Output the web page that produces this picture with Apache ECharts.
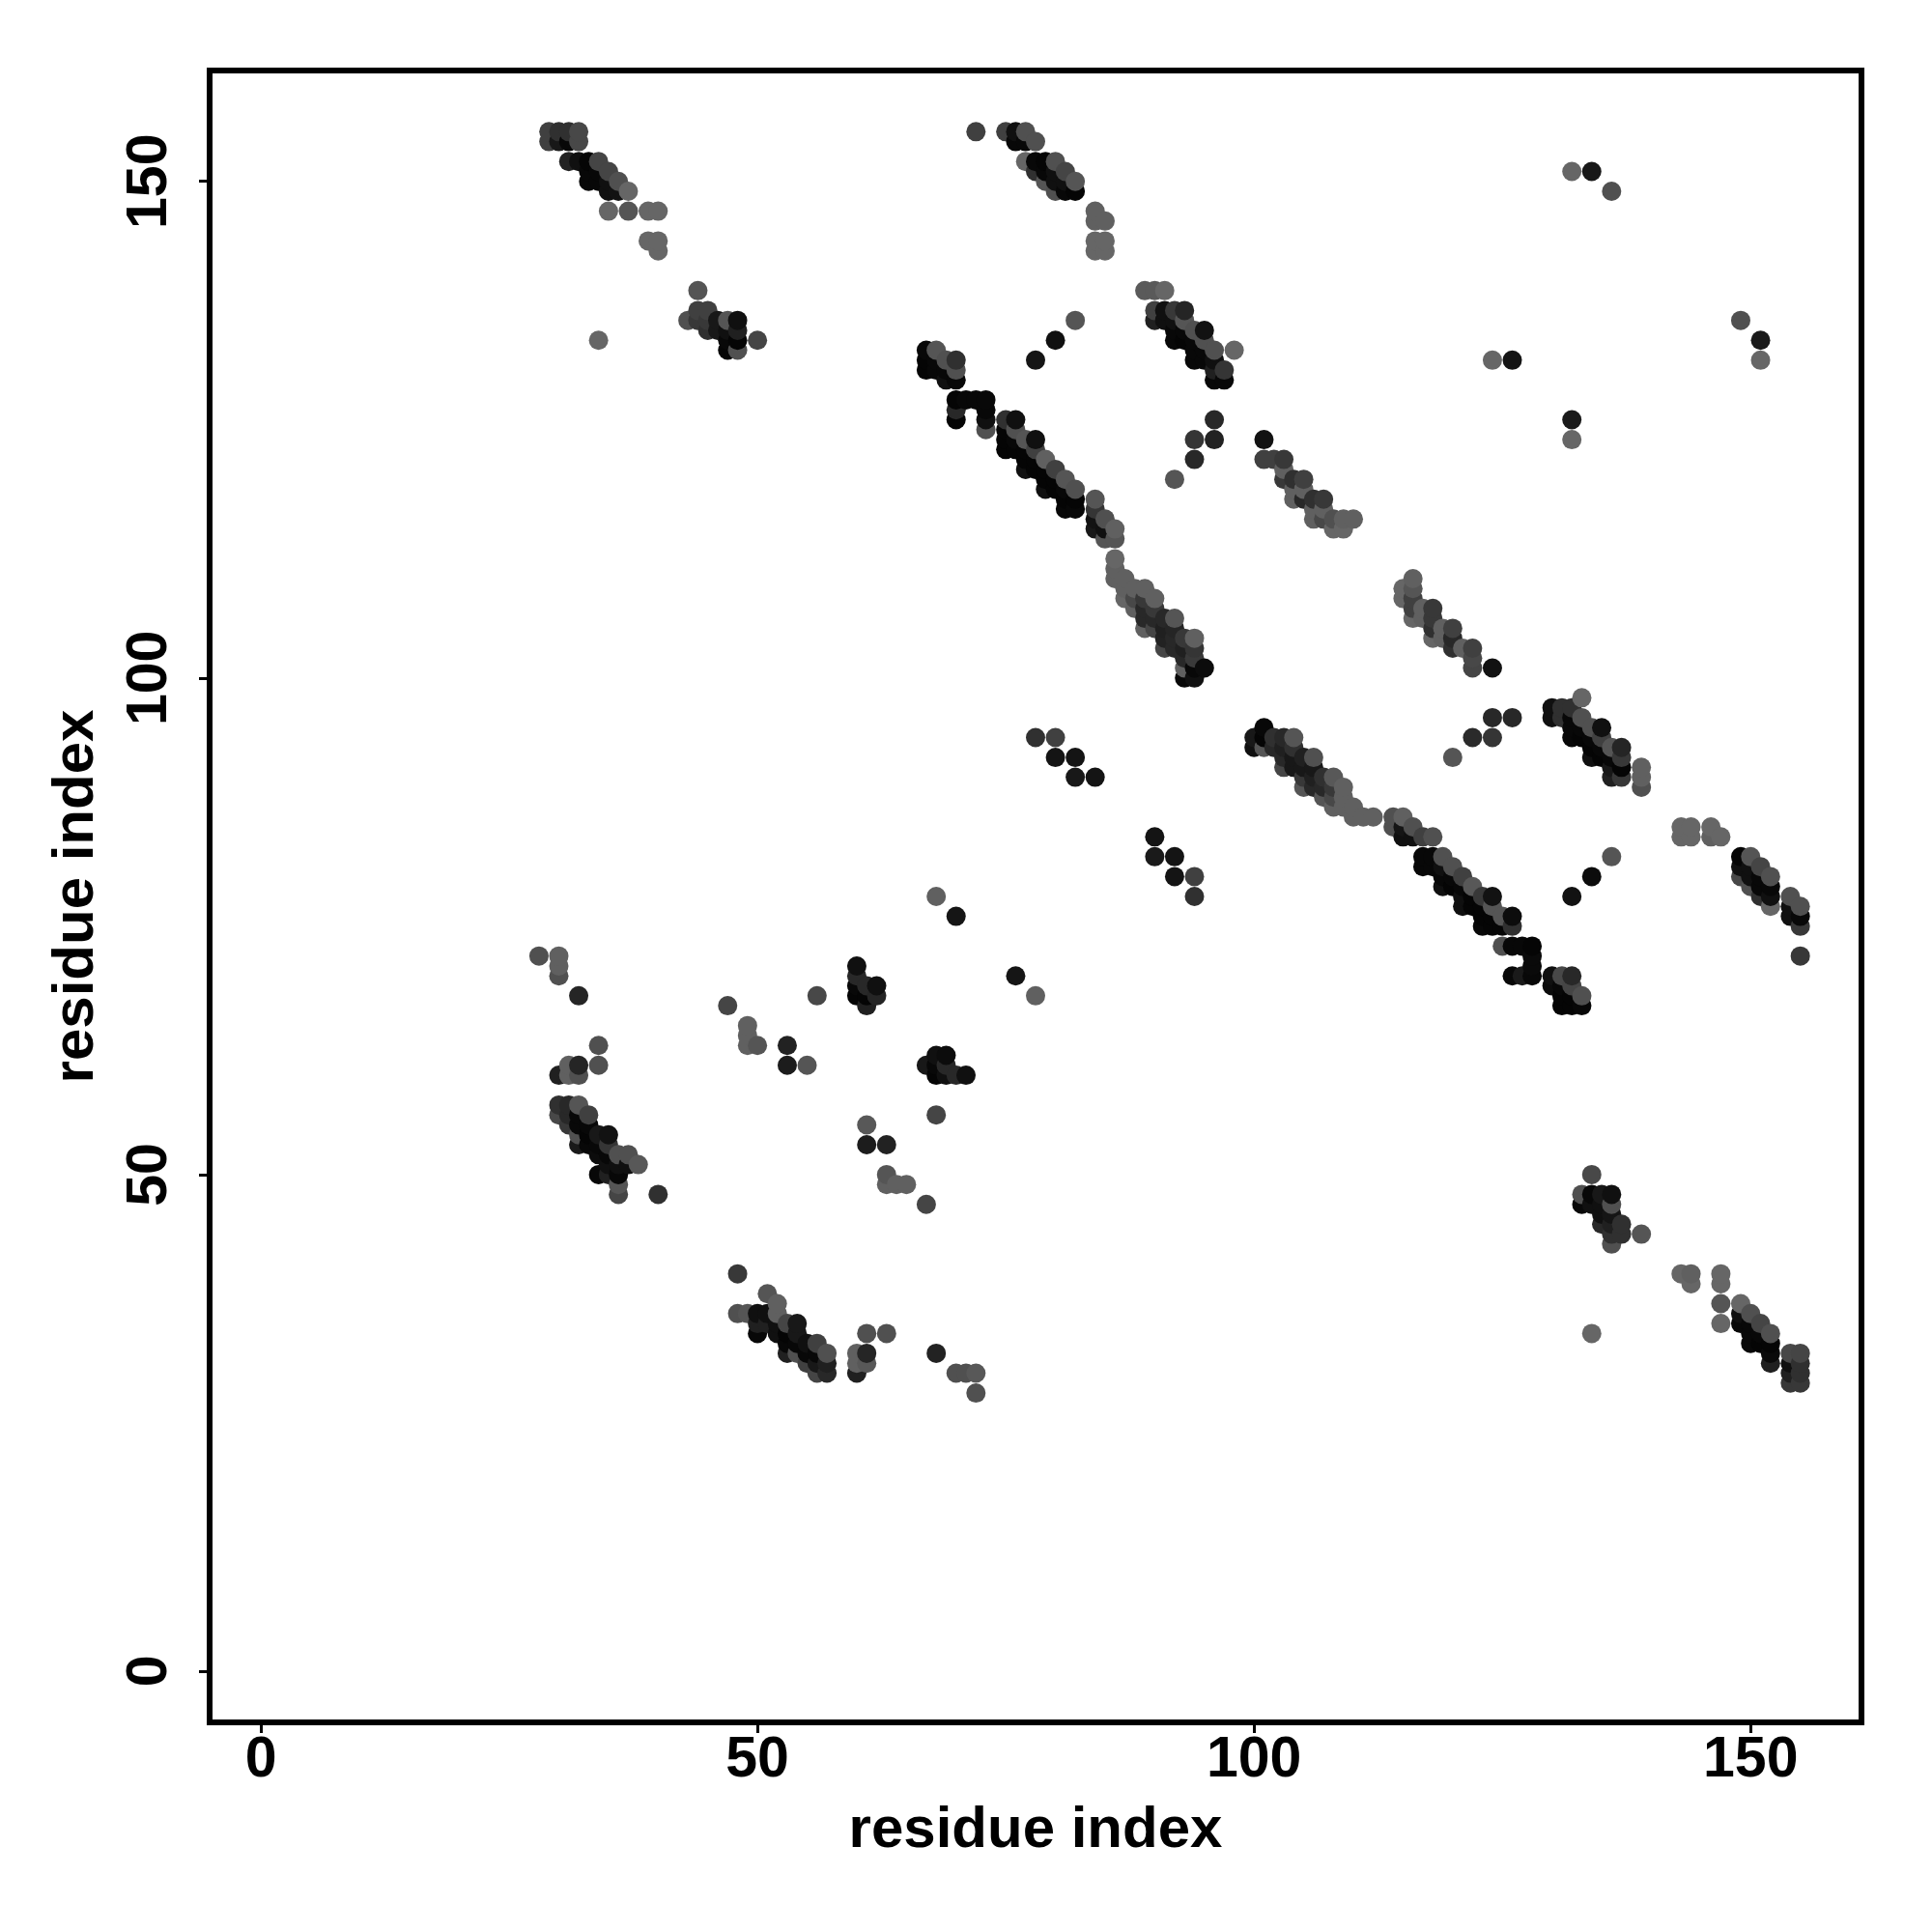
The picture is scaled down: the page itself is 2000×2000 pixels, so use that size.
<!DOCTYPE html>
<html><head><meta charset="utf-8">
<script src="https://cdn.jsdelivr.net/npm/echarts@6/dist/echarts.min.js"></script>
<style>html,body{margin:0;background:#fff}#c{width:2000px;height:2000px}</style></head>
<body><div id="c"></div>
<script>
// Each contact: [residue x, residue y, grey shade 0-255]
const clusterTopA=[[29,155,0x40],[30,155,0x30],[31,155,0x30],[32,155,0x48],[29,154,0x40],[30,154,0x18],[31,154,0x08],[32,154,0x48],
[31,152,0x22],[32,152,0x10],[33,152,0x05],[34,152,0x45],[33,151,0x08],[34,151,0x08],[35,151,0x45],[33,150,0x08],[34,150,0x08],[35,150,0x10],[36,150,0x50],
[35,149,0x10],[36,149,0x12],[37,149,0x66],[35,147,0x66],[37,147,0x55],[39,147,0x66],[40,147,0x66],[39,144,0x66],[40,144,0x66],[40,143,0x66]];
const clusterTopB=[[44,139,0x55],[44,137,0x40],[45,137,0x40],[43,136,0x50],[44,136,0x38],[45,136,0x38],[46,136,0x18],[47,136,0x55],[48,136,0x10],
[45,135,0x30],[46,135,0x18],[47,135,0x10],[48,135,0x20],[34,134,0x66],[47,134,0x08],[48,134,0x05],[50,134,0x45],[47,133,0x05],[48,133,0x50]];
const clusterTopC=[[72,155,0x40],[75,155,0x40],[76,155,0x10],[77,155,0x50],[76,154,0x08],[77,154,0x08],[78,154,0x50],
[77,152,0x66],[78,152,0x08],[79,152,0x05],[80,152,0x50],[78,151,0x30],[79,151,0x08],[80,151,0x10],[81,151,0x45],
[79,150,0x55],[80,150,0x10],[81,150,0x10],[82,150,0x55],[80,149,0x50],[81,149,0x08],[82,149,0x05],
[84,147,0x60],[84,146,0x60],[85,146,0x60],[84,144,0x66],[85,144,0x66],[84,143,0x66],[85,143,0x66]];
const clusterTopD=[[89,139,0x5a],[90,139,0x5a],[91,139,0x66],[90,137,0x40],[91,137,0x10],[92,137,0x38],[93,137,0x25],
[90,136,0x20],[91,136,0x10],[92,136,0x10],[93,136,0x55],[92,135,0x08],[93,135,0x08],[94,135,0x50],[95,135,0x12],
[92,134,0x08],[93,134,0x05],[94,134,0x08],[95,134,0x50],[94,133,0x08],[95,133,0x08],[96,133,0x50],[98,133,0x66],
[94,132,0x08],[95,132,0x08],[96,132,0x10],[96,131,0x20],[97,131,0x35],[96,130,0x08],[97,130,0x08],
[82,136,0x55],[80,134,0x10],[78,132,0x15]];
const clusterMidA=[[67,133,0x08],[68,133,0x55],[67,132,0x05],[68,132,0x08],[69,132,0x50],[70,132,0x30],[67,131,0x05],[68,131,0x08],[69,131,0x08],[70,131,0x50],
[69,130,0x10],[70,130,0x08],[70,128,0x05],[71,128,0x08],[72,128,0x08],[73,128,0x08],[70,127,0x28],[73,127,0x08],[70,126,0x05],[73,126,0x10],[73,125,0x50]];
const clusterMidB=[[75,126,0x30],[76,126,0x10],[75,125,0x05],[76,125,0x50],[75,124,0x05],[76,124,0x08],[77,124,0x55],[78,124,0x10],
[75,123,0x05],[76,123,0x05],[77,123,0x05],[78,123,0x40],[77,122,0x05],[78,122,0x05],[79,122,0x60],
[77,121,0x10],[78,121,0x05],[79,121,0x05],[80,121,0x40],[79,120,0x05],[80,120,0x05],[81,120,0x55],
[79,119,0x10],[80,119,0x05],[81,119,0x08],[82,119,0x50],[81,118,0x05],[82,118,0x05],[84,118,0x55],[81,117,0x08],[82,117,0x08],[84,117,0x35],
[84,116,0x12],[85,116,0x50],[84,115,0x18],[85,115,0x10],[86,115,0x60],[85,114,0x55],[86,114,0x55]];
const clusterMidC=[[86,112,0x66],[86,111,0x60],[86,110,0x60],[87,110,0x60],[87,109,0x60],[88,109,0x60],[89,109,0x60],
[87,108,0x66],[88,108,0x48],[89,108,0x38],[90,108,0x60],[88,107,0x60],[89,107,0x28],[90,107,0x38],
[89,106,0x28],[90,106,0x28],[91,106,0x28],[92,106,0x55],[89,105,0x60],[90,105,0x45],[91,105,0x20],[92,105,0x25],
[91,104,0x22],[92,104,0x28],[93,104,0x38],[94,104,0x60],[91,103,0x45],[92,103,0x28],[93,103,0x20],[94,103,0x35],
[93,102,0x28],[94,102,0x3a],[93,101,0x60],[94,101,0x08],[95,101,0x0c],[93,100,0x08],[94,100,0x10]];
const clusterSideA=[[96,126,0x28],[94,124,0x35],[96,124,0x22],[94,122,0x28],[92,120,0x55],
[132,151,0x66],[134,151,0x18],[136,149,0x50],[149,136,0x50],[151,134,0x1a],[151,132,0x66],[124,132,0x66],[126,132,0x14],[132,126,0x1a],[132,124,0x66]];
const clusterRightA=[[101,124,0x12],[101,122,0x40],[102,122,0x40],[103,122,0x38],[103,121,0x60],[103,120,0x38],[104,120,0x30],[105,120,0x40],
[104,119,0x60],[105,119,0x60],[104,118,0x60],[105,118,0x28],[106,118,0x30],[107,118,0x38],[106,117,0x60],[107,117,0x60],
[106,116,0x60],[107,116,0x48],[108,116,0x50],[109,116,0x60],[110,116,0x60],[108,115,0x66],[109,115,0x66]];
const clusterRightB=[[116,110,0x60],[115,109,0x66],[115,108,0x66],[116,109,0x55],[116,108,0x40],[116,107,0x40],[116,106,0x66],[117,107,0x60],[117,106,0x60],
[118,107,0x38],[118,106,0x38],[118,105,0x30],[118,104,0x66],[119,105,0x60],[119,104,0x60],[120,105,0x40],[120,104,0x28],[120,103,0x30],[121,103,0x60],
[122,103,0x40],[122,102,0x48],[122,101,0x45],[124,101,0x12]];
const clusterDiagA=[[124,96,0x28],[126,96,0x28],[122,94,0x2a],[124,94,0x35],[120,92,0x55],[101,95,0x08],
[100,94,0x18],[101,94,0x05],[102,94,0x30],[103,94,0x28],[104,94,0x55],[100,93,0x10],[101,93,0x55],[102,93,0x28],[103,93,0x20],[104,93,0x30],
[103,92,0x28],[104,92,0x18],[105,92,0x20],[106,92,0x50],[103,91,0x45],[104,91,0x18],[105,91,0x18],[106,91,0x18],
[105,90,0x38],[106,90,0x20],[107,90,0x30],[108,90,0x58],[105,89,0x55],[106,89,0x28],[107,89,0x28],[108,89,0x38],[109,89,0x60],
[107,88,0x55],[108,88,0x48],[109,88,0x60],[108,87,0x60],[109,87,0x60],[110,87,0x60],[110,86,0x60],[111,86,0x60],[112,86,0x60]];
const clusterDiagB=[[114,86,0x50],[115,86,0x60],[114,85,0x50],[115,85,0x15],[116,85,0x50],[115,84,0x10],[116,84,0x10],[117,84,0x40],[118,84,0x50]];
const clusterDiagC=[[130,97,0x10],[131,97,0x30],[132,97,0x30],[133,98,0x66],[130,96,0x10],[131,96,0x30],[132,96,0x08],[133,96,0x50],
[132,95,0x08],[133,95,0x08],[134,95,0x50],[135,95,0x10],[132,94,0x08],[133,94,0x05],[134,94,0x08],[135,94,0x40],
[134,93,0x05],[135,93,0x08],[136,93,0x55],[137,93,0x25],[134,92,0x10],[135,92,0x05],[136,92,0x08],[137,92,0x38],
[136,91,0x18],[137,91,0x05],[136,90,0x20],[137,90,0x38],[139,91,0x60],[139,90,0x60],[139,89,0x50]];
const clusterDiagD=[[117,82,0x08],[118,82,0x08],[119,82,0x50],[117,81,0x08],[118,81,0x08],[119,81,0x10],[120,81,0x50],
[119,80,0x08],[120,80,0x08],[121,80,0x40],[119,79,0x10],[120,79,0x05],[121,79,0x08],[122,79,0x58],
[121,78,0x10],[122,78,0x05],[123,78,0x38],[124,78,0x12],[121,77,0x10],[122,77,0x05],[123,77,0x05],[124,77,0x55],
[123,76,0x05],[124,76,0x05],[125,76,0x55],[126,76,0x0c],[123,75,0x08],[124,75,0x05],[125,75,0x05],[126,75,0x30],
[125,73,0x50],[126,73,0x08],[127,73,0x08],[128,73,0x05],[128,72,0x0a],[128,71,0x0a],[126,70,0x08],[127,70,0x1a],[128,70,0x08]];
const clusterDiagE=[[130,70,0x10],[131,70,0x48],[132,70,0x28],[130,69,0x0c],[131,69,0x08],[132,69,0x45],[131,68,0x05],[132,68,0x05],[133,68,0x50],
[131,67,0x05],[132,67,0x05],[133,67,0x08],[136,82,0x55],[134,80,0x0c],[132,78,0x12]];
const clusterFarA=[[143,85,0x66],[144,85,0x66],[146,85,0x66],[143,84,0x66],[144,84,0x66],[146,84,0x60],[147,84,0x66],
[149,82,0x05],[150,82,0x55],[149,81,0x10],[150,81,0x10],[151,81,0x45],[149,80,0x48],[150,80,0x10],[151,80,0x08],[152,80,0x50],
[150,79,0x50],[151,79,0x08],[152,79,0x08],[151,78,0x30],[152,78,0x10],[152,77,0x66],[154,78,0x50],[154,77,0x10],[155,77,0x50],
[154,76,0x10],[155,76,0x08],[155,75,0x38],[155,72,0x38]];
const clusterLowA=[[134,50,0x48],[133,48,0x50],[134,48,0x08],[135,48,0x18],[136,48,0x10],[133,47,0x08],[134,47,0x10],[135,47,0x10],[136,47,0x50],
[135,46,0x10],[136,46,0x15],[135,45,0x28],[136,45,0x20],[137,45,0x30],[136,44,0x30],[137,44,0x30],[139,44,0x55],[136,43,0x50],[134,34,0x66]];
const clusterLowB=[[143,40,0x66],[144,40,0x60],[147,40,0x66],[144,39,0x66],[147,39,0x66],[147,37,0x55],[149,37,0x66],[149,36,0x10],[150,36,0x50],
[147,35,0x66],[149,35,0x08],[150,35,0x08],[151,35,0x45],[150,34,0x08],[151,34,0x08],[152,34,0x50],[150,33,0x08],[151,33,0x05],[152,33,0x05],
[152,32,0x0a],[154,32,0x48],[155,32,0x45],[152,31,0x20],[154,31,0x10],[155,31,0x30],[154,30,0x20],[155,30,0x30],[154,29,0x38],[155,29,0x38]];
const clusterLeftA=[[28,72,0x50],[30,72,0x60],[30,71,0x60],[30,70,0x50],[32,68,0x25],[34,63,0x50],[34,61,0x50],[31,61,0x60],[32,61,0x25],[30,60,0x20],[31,60,0x60],[32,60,0x50],
[30,57,0x30],[31,57,0x28],[32,57,0x55],[30,56,0x48],[31,56,0x28],[32,56,0x08],[33,56,0x40],[31,55,0x38],[32,55,0x08],[33,55,0x08],
[32,54,0x50],[33,54,0x05],[34,54,0x18],[35,54,0x12],[32,53,0x1a],[33,53,0x08],[34,53,0x08],[35,53,0x35],
[34,52,0x0c],[35,52,0x08],[36,52,0x50],[37,52,0x50],[35,51,0x10],[36,51,0x10],[37,51,0x10],[38,51,0x58],[34,50,0x08],[35,50,0x20],[36,50,0x08],[36,49,0x55],[36,48,0x45],[40,48,0x30]];
const clusterCentreA=[[47,67,0x45],[49,65,0x60],[49,64,0x60],[49,63,0x60],[50,63,0x55],[53,63,0x22],[53,61,0x1c],[55,61,0x55],[56,68,0x48],
[60,71,0x10],[60,70,0x28],[60,69,0x08],[60,68,0x05],[61,69,0x28],[61,68,0x05],[61,67,0x20],[62,69,0x10],[62,68,0x25],
[68,78,0x60],[70,76,0x15],[76,70,0x15],[78,68,0x60],[67,61,0x18],[68,62,0x10],[68,61,0x08],[68,60,0x05],[69,62,0x0c],[69,61,0x28],[69,60,0x10],[70,60,0x28],[71,60,0x10],
[68,56,0x45],[61,55,0x58],[61,53,0x1c],[63,53,0x22],[63,50,0x55],[63,49,0x60],[64,49,0x60],[65,49,0x60],[67,47,0x45]];
const clusterBottomA=[[48,40,0x38],[51,38,0x55],[52,37,0x60],[48,36,0x50],[49,36,0x55],[50,36,0x10],[51,36,0x10],[52,36,0x60],
[50,35,0x20],[51,35,0x20],[52,35,0x10],[53,35,0x45],[54,35,0x18],[50,34,0x08],[52,34,0x10],[53,34,0x05],[54,34,0x18],
[53,33,0x08],[54,33,0x08],[55,33,0x10],[56,33,0x40],[53,32,0x20],[54,32,0x50],[55,32,0x08],[56,32,0x08],[57,32,0x50],
[55,31,0x40],[56,31,0x18],[57,31,0x20],[56,30,0x45],[57,30,0x28],[60,32,0x60],[60,31,0x60],[60,30,0x20],[61,34,0x50],[61,32,0x25],[61,31,0x58],[63,34,0x50],
[68,32,0x22],[70,30,0x50],[71,30,0x50],[72,30,0x58],[72,28,0x50]];
const clusterIsleA=[[78,94,0x30],[80,94,0x40],[80,92,0x14],[82,92,0x14],[82,90,0x18],[84,90,0x14],
[90,84,0x14],[90,82,0x1a],[92,82,0x14],[92,80,0x14],[94,80,0x40],[94,78,0x30]];

const tickLabels=[0,50,100,150];
const axisTitle='residue index';

const contacts=[].concat(clusterTopA,clusterTopB,clusterTopC,clusterTopD,clusterMidA,clusterMidB,clusterMidC,clusterSideA,
 clusterRightA,clusterRightB,clusterDiagA,clusterDiagB,clusterDiagC,clusterDiagD,clusterDiagE,clusterFarA,clusterLowA,clusterLowB,
 clusterLeftA,clusterCentreA,clusterBottomA,clusterIsleA).sort((a,b)=>a[0]-b[0]||a[1]-b[1]);

const font='"Liberation Sans"';
function axis(isY){return {
  type:'value',min:-5.16,max:161.16,
  name:axisTitle,nameLocation:'middle',nameGap:isY?108:82,
  nameTextStyle:{fontFamily:font,fontWeight:'bold',fontSize:60,color:'#000'},
  splitLine:{show:false},
  axisLine:{show:false,onZero:false},
  axisTick:{show:true,length:11,lineStyle:{color:'#000',width:3},customValues:tickLabels},
  axisLabel:{show:true,rotate:isY?90:0,margin:isY?32:10,fontFamily:font,fontWeight:'bold',fontSize:59,color:'#000',customValues:tickLabels,hideOverlap:false,showMinLabel:true,showMaxLabel:true}
};}
const chart=echarts.init(document.getElementById('c'),null,{renderer:'canvas'});
chart.setOption({
  animation:false,backgroundColor:'#fff',
  grid:{left:217,right:73,top:73,bottom:217,show:true,borderColor:'#000',borderWidth:6,backgroundColor:'transparent'},
  xAxis:axis(false),yAxis:axis(true),
  series:[{type:'scatter',data:contacts,symbol:'circle',symbolSize:20,
    encode:{x:0,y:1},
    itemStyle:{opacity:1,color:p=>{const g=p.data[2];return `rgb(${g},${g},${g})`;}}}]
});
</script></body></html>
